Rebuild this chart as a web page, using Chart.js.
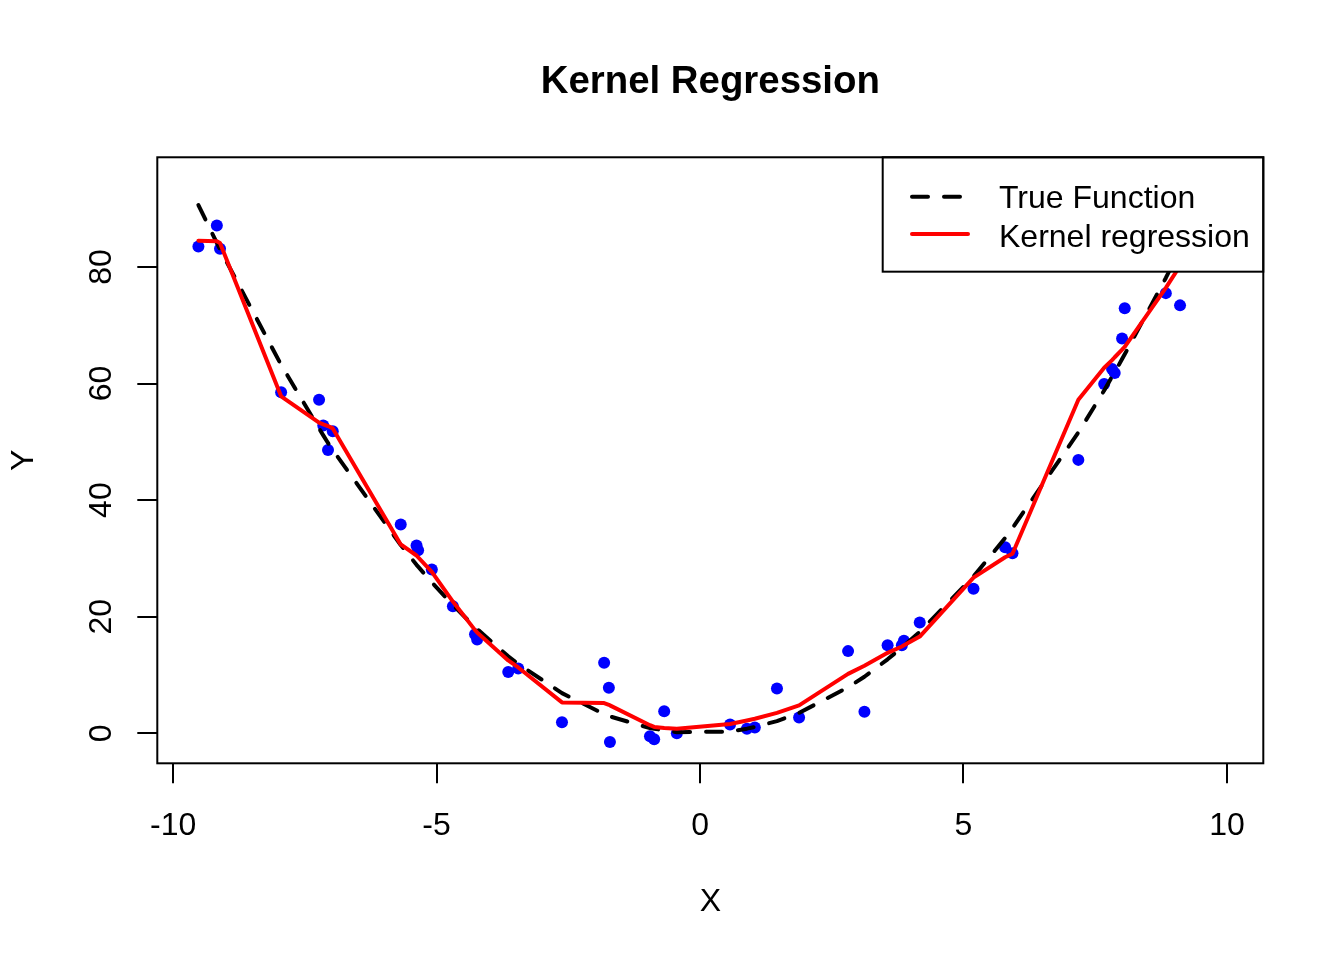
<!DOCTYPE html>
<html>
<head>
<meta charset="utf-8">
<script src="https://cdn.jsdelivr.net/npm/chart.js@4.4.1/dist/chart.umd.min.js"></script>
<style>
html, body { margin: 0; padding: 0; background: #ffffff; }
canvas { display: block; }
</style>
</head>
<body>
<canvas id="c" width="1344" height="960"></canvas>
<script>
// ---- data ----
const titleText = 'Kernel Regression';
const xLabel = 'X';
const yLabel = 'Y';
const xTicks = [-10, -5, 0, 5, 10];
const yTicks = [0, 20, 40, 60, 80];
const seriesNames = ['True Function', 'Kernel regression'];

// observed points (sorted by x); the last one lies hidden under the legend
const obsX = [-9.52, -9.17, -9.11, -7.95, -7.23, -7.15, -7.06, -6.97, -5.68, -5.38,
              -5.35, -5.09, -4.69, -4.27, -4.23, -3.64, -3.45, -2.62, -1.82, -1.73,
              -1.71, -0.95, -0.87, -0.68, -0.44, 0.57, 0.89, 1.04, 1.46, 1.88,
              2.81, 3.12, 3.56, 3.83, 3.87, 4.17, 5.19, 5.79, 5.93, 7.18,
              7.67, 7.82, 7.87, 8.01, 8.06, 8.84, 9.11, 9.91];
const obsY = [83.5, 87.1, 83.1, 58.5, 57.2, 52.8, 48.6, 51.8, 35.8, 32.2,
              31.4, 28.1, 21.8, 17.0, 16.1, 10.5, 11.1, 1.9, 12.1, 7.8,
              -1.5, -0.5, -1.0, 3.8, 0.0, 1.5, 0.8, 1.0, 7.7, 2.7,
              14.1, 3.7, 15.1, 15.1, 15.9, 19.0, 24.8, 31.9, 30.9, 46.9,
              59.9, 62.5, 61.8, 67.7, 72.9, 75.5, 73.4, 95.0];
// true function, drawn at the same x values
const trueY = [90.6, 84.1, 83.0, 63.2, 52.3, 51.1, 49.8, 48.6, 32.3, 28.9,
               28.6, 25.9, 22.0, 18.2, 17.9, 13.2, 11.9, 6.9, 3.3, 3.0,
               2.9, 0.9, 0.8, 0.5, 0.2, 0.3, 0.8, 1.1, 2.1, 3.5,
               7.9, 9.7, 12.7, 14.7, 15.0, 17.4, 26.9, 33.5, 35.2, 51.6,
               58.8, 61.2, 61.9, 64.2, 65.0, 78.1, 83.0, 98.2];
// kernel regression fit, drawn at the same x values
const kernelY = [84.5, 84.4, 84.1, 57.8, 53.3, 53.0, 52.7, 52.3, 32.4, 30.5,
                 30.2, 27.7, 22.6, 17.7, 17.3, 12.5, 11.3, 5.3, 5.2, 4.9,
                 4.8, 1.4, 1.1, 0.9, 0.8, 1.6, 2.2, 2.5, 3.5, 4.8,
                 10.2, 11.6, 13.8, 14.9, 15.1, 16.6, 26.7, 30.2, 30.8, 57.2,
                 62.7, 64.0, 64.5, 65.8, 66.3, 76.4, 80.2, 88.0];

const FONT = '"Liberation Sans", Arial, Helvetica, sans-serif';
Chart.defaults.font.family = FONT;
Chart.defaults.color = '#000000';

const toXY = (ys) => obsX.map((x, i) => ({ x: x, y: ys[i] }));

// legend drawn inside the plot, R style (white box with border)
const rLegend = {
  id: 'rLegend',
  afterDatasetsDraw(chart) {
    const ctx = chart.ctx;
    const a = chart.chartArea;
    const w = 380.6, h = 114.4;
    const L = a.right - w, T = a.top;
    ctx.save();
    ctx.fillStyle = '#ffffff';
    ctx.fillRect(L, T, w, h);
    ctx.lineWidth = 2;
    ctx.strokeStyle = '#000000';
    ctx.setLineDash([]);
    ctx.strokeRect(L, T, w, h);
    const entries = [
      { ds: chart.data.datasets[1], ly: 39.4, by: 51.0 },
      { ds: chart.data.datasets[0], ly: 76.7, by: 89.4 }
    ];
    entries.forEach(e => {
      ctx.save();
      ctx.strokeStyle = e.ds.borderColor;
      ctx.lineWidth = e.ds.borderWidth;
      ctx.lineCap = 'round';
      ctx.setLineDash(e.ds.borderDash || []);
      ctx.beginPath();
      ctx.moveTo(L + 29.3, T + e.ly);
      ctx.lineTo(L + 85.3, T + e.ly);
      ctx.stroke();
      ctx.restore();
      ctx.fillStyle = '#000000';
      ctx.font = '32px ' + FONT;
      ctx.textAlign = 'left';
      ctx.textBaseline = 'alphabetic';
      ctx.fillText(e.ds.label, L + 116.3, T + e.by);
    });
    ctx.restore();
  }
};

// box around the plot region
const rBox = {
  id: 'rBox',
  afterDraw(chart) {
    const ctx = chart.ctx;
    const a = chart.chartArea;
    ctx.save();
    ctx.lineWidth = 2;
    ctx.strokeStyle = '#000000';
    ctx.setLineDash([]);
    ctx.strokeRect(a.left, a.top, a.right - a.left, a.bottom - a.top);
    ctx.restore();
  }
};

new Chart(document.getElementById('c'), {
  type: 'scatter',
  data: {
    datasets: [
      {
        label: seriesNames[1],
        data: toXY(kernelY),
        showLine: true,
        borderColor: '#FF0000',
        borderWidth: 4,
        borderCapStyle: 'round',
        borderJoinStyle: 'round',
        pointRadius: 0,
        pointHoverRadius: 0,
        tension: 0,
        order: 0
      },
      {
        label: seriesNames[0],
        data: toXY(trueY),
        showLine: true,
        borderColor: '#000000',
        borderWidth: 4,
        borderDash: [16, 16],
        borderCapStyle: 'round',
        borderJoinStyle: 'round',
        pointRadius: 0,
        pointHoverRadius: 0,
        tension: 0,
        order: 1
      },
      {
        label: 'Data',
        data: toXY(obsY),
        showLine: false,
        pointRadius: 6,
        pointHoverRadius: 6,
        pointBackgroundColor: '#0000FF',
        pointBorderWidth: 0,
        pointBorderColor: '#0000FF',
        order: 2
      }
    ]
  },
  options: {
    responsive: false,
    animation: false,
    devicePixelRatio: 1,
    events: [],
    layout: { padding: { left: 0, right: 80.7, top: 0, bottom: 0 } },
    plugins: {
      legend: { display: false },
      tooltip: { enabled: false },
      title: {
        display: true,
        text: titleText,
        fullSize: false,
        color: '#000000',
        font: { size: 38.4, weight: 'bold', family: FONT, lineHeight: 1.2 },
        padding: { top: 59, bottom: 52.2 }
      }
    },
    scales: {
      x: {
        type: 'linear',
        min: -10.30,
        max: 10.69,
        afterBuildTicks: (s) => { s.ticks = xTicks.map(v => ({ value: v })); },
        afterFit: (s) => { s.height = 196.7; },
        border: { display: false },
        grid: {
          drawOnChartArea: false,
          drawTicks: true,
          tickLength: 20,
          lineWidth: 2,
          tickWidth: 2,
          tickColor: '#000000',
          color: '#000000'
        },
        ticks: {
          autoSkip: false,
          maxRotation: 0,
          minRotation: 0,
          padding: 23.4,
          color: '#000000',
          font: { size: 32, family: FONT, lineHeight: 1.2 },
          callback: (v) => String(v)
        },
        title: {
          display: true,
          text: xLabel,
          color: '#000000',
          font: { size: 32, family: FONT, lineHeight: 1.2 },
          padding: { top: 0, bottom: 39 }
        }
      },
      y: {
        type: 'linear',
        min: -5.14,
        max: 98.8,
        afterBuildTicks: (s) => { s.ticks = yTicks.map(v => ({ value: v })); },
        afterFit: (s) => { s.width = 157.3; },
        border: { display: false },
        grid: {
          drawOnChartArea: false,
          drawTicks: true,
          tickLength: 20,
          lineWidth: 2,
          tickWidth: 2,
          tickColor: '#000000',
          color: '#000000'
        },
        ticks: {
          autoSkip: false,
          minRotation: 90,
          maxRotation: 90,
          crossAlign: 'center',
          padding: 17.8,
          color: '#000000',
          font: { size: 32, family: FONT, lineHeight: 1.2 },
          callback: (v) => String(v)
        },
        title: {
          display: true,
          text: yLabel,
          color: '#000000',
          font: { size: 32, family: FONT, lineHeight: 1.2 },
          padding: { top: 4.8, bottom: 0 }
        }
      }
    }
  },
  plugins: [rLegend, rBox]
});
</script>
</body>
</html>
